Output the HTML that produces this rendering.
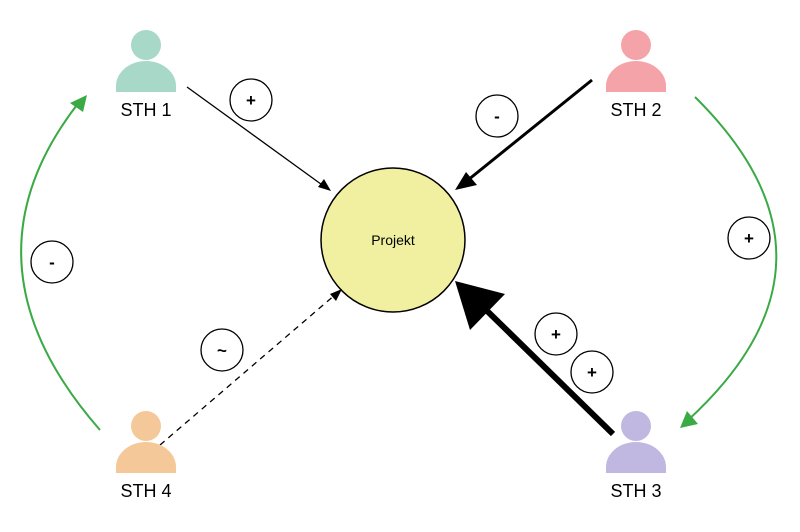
<!DOCTYPE html>
<html><head><style>
html,body{margin:0;padding:0;background:#fff;}
svg{display:block;}
text{font-family:"Liberation Sans",sans-serif;}
</style></head><body>
<svg width="800" height="532" viewBox="0 0 800 532" xmlns="http://www.w3.org/2000/svg">
<defs>
<marker id="g" markerWidth="10" markerHeight="10" refX="8" refY="5" orient="auto" markerUnits="userSpaceOnUse" viewBox="0 0 10 10"><path d="M0,0 L10,5 L0,10 z" fill="#3aaa45"/></marker>
</defs>
<!-- green arcs -->
<path d="M100,430 Q-47,262 80,101" fill="none" stroke="#3aaa45" stroke-width="2"/>
<path d="M87,95 L70,103 L83,112 z" fill="#3aaa45"/>
<path d="M695,97 Q862,262 686,422" fill="none" stroke="#3aaa45" stroke-width="2"/>
<path d="M680,428 L687,411 L698,424 z" fill="#3aaa45"/>
<!-- projekt -->
<circle cx="393" cy="240" r="72" fill="#f0f0a0" stroke="#000" stroke-width="1.5"/>
<text x="393" y="245" font-size="14" text-anchor="middle">Projekt</text>
<!-- STH1 arrow -->
<line x1="187" y1="87" x2="325" y2="187" stroke="#000" stroke-width="1.3"/>
<path d="M331,191 L318,187 L324,179 z" fill="#000"/>
<!-- STH2 arrow -->
<line x1="592" y1="80" x2="468" y2="180" stroke="#000" stroke-width="3"/>
<path d="M455,190 L466,172 L477,185 z" fill="#000"/>
<!-- STH3 arrow -->
<line x1="613" y1="434" x2="480" y2="304" stroke="#000" stroke-width="6"/>
<path d="M455,281 L505,294 L470,330 z" fill="#000"/>
<!-- STH4 dashed -->
<line x1="160" y1="445" x2="336" y2="294" stroke="#000" stroke-width="1.3" stroke-dasharray="6,5"/>
<path d="M342,289 L336,301 L330,294 z" fill="#000"/>
<!-- label circles -->
<g fill="#fff" stroke="#000" stroke-width="1.3">
<circle cx="251" cy="100" r="21"/>
<circle cx="497" cy="116" r="21"/>
<circle cx="749" cy="238" r="21"/>
<circle cx="52" cy="262" r="21"/>
<circle cx="222" cy="350" r="21"/>
<circle cx="556" cy="334" r="21"/>
<circle cx="592" cy="372" r="21"/>
</g>
<g font-size="17" font-weight="bold" text-anchor="middle">
<text x="251" y="106">+</text>
<text x="497" y="122">-</text>
<text x="749" y="244">+</text>
<text x="52" y="268">-</text>
<text x="222" y="356">~</text>
<text x="556" y="340">+</text>
<text x="592" y="378">+</text>
</g>
<!-- persons -->
<g fill="#a8d8c8"><circle cx="146" cy="45" r="15"/><path d="M116,92 L116,86 A30,25 0 0 1 176,86 L176,92 z"/></g>
<g fill="#f4a4a8"><circle cx="636" cy="45" r="15"/><path d="M606,92 L606,86 A30,25 0 0 1 666,86 L666,92 z"/></g>
<g fill="#c0b8e0"><circle cx="636" cy="426" r="15"/><path d="M606,473 L606,467 A30,25 0 0 1 666,467 L666,473 z"/></g>
<g fill="#f4c898"><circle cx="146" cy="426" r="15"/><path d="M116,473 L116,467 A30,25 0 0 1 176,467 L176,473 z"/></g>
<g font-size="18" text-anchor="middle">
<text x="146" y="116">STH 1</text>
<text x="636" y="116">STH 2</text>
<text x="636" y="497">STH 3</text>
<text x="146" y="497">STH 4</text>
</g>
</svg>
</body></html>
